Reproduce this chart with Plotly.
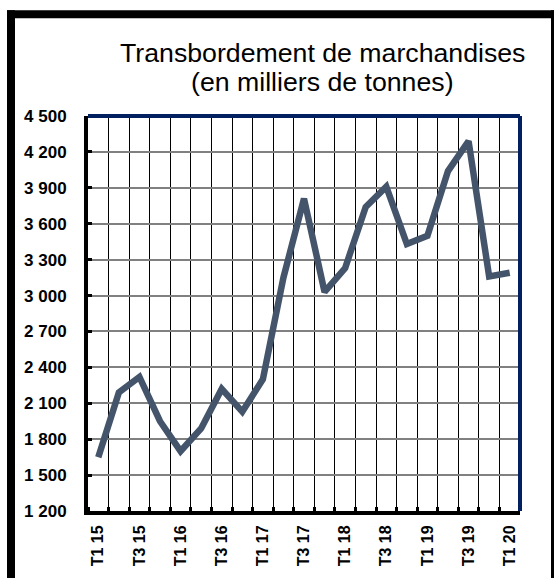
import plotly.graph_objects as go

# ---- data ----
quarters = ["T1 15", "T2 15", "T3 15", "T4 15",
            "T1 16", "T2 16", "T3 16", "T4 16",
            "T1 17", "T2 17", "T3 17", "T4 17",
            "T1 18", "T2 18", "T3 18", "T4 18",
            "T1 19", "T2 19", "T3 19", "T4 19",
            "T1 20"]
values = [1650, 2190, 2320, 1950,
          1700, 1890, 2220, 2030,
          2300, 3150, 3810, 3030,
          3230, 3740, 3910, 3430,
          3500, 4040, 4290, 3160,
          3190]
y_ticks = [1200, 1500, 1800, 2100, 2400, 2700, 3000, 3300, 3600, 3900, 4200, 4500]
y_ticktext = ["1 200", "1 500", "1 800", "2 100", "2 400", "2 700",
              "3 000", "3 300", "3 600", "3 900", "4 200", "4 500"]
title_lines = ["Transbordement de marchandises", "(en milliers de tonnes)"]

# ---- layout geometry (pixels) ----
W, H = 557, 578
L, R, T, B = 88, 520, 116, 516
PW, PH = R - L, B - T

def px(x):
    return (x - L) / PW

def py(y):
    return (B - y) / PH

xs = list(range(len(quarters)))
label_idx = xs[::2]

fig = go.Figure()
fig.add_trace(go.Scatter(
    x=xs, y=values, mode="lines",
    line=dict(color="#44546A", width=6.5),
    hoverinfo="skip", showlegend=False,
))

FONT = "Liberation Sans, Arial, sans-serif"

fig.update_layout(
    width=W, height=H,
    margin=dict(l=L, r=W - R, t=T, b=H - B, pad=0),
    paper_bgcolor="white", plot_bgcolor="white",
    font=dict(family=FONT, color="black"),
    showlegend=False,
)

fig.update_xaxes(
    range=[-0.5, len(quarters) - 0.5],
    tickmode="array",
    tickvals=label_idx,
    ticktext=[quarters[i] for i in label_idx],
    tickangle=-90,
    tickfont=dict(family=FONT, size=16, color="black", weight="bold"),
    ticks="", showgrid=False, zeroline=False,
    showline=True, linecolor="black", linewidth=4,
    ticklabelstandoff=4,
    minor=dict(
        tickmode="array",
        tickvals=[i - 0.5 for i in range(len(quarters) + 1)],
        showgrid=True, gridcolor="black", gridwidth=1,
        ticks="inside", ticklen=4, tickwidth=3, tickcolor="black",
    ),
)

fig.update_yaxes(
    range=[y_ticks[0], y_ticks[-1]],
    tickmode="array", tickvals=y_ticks, ticktext=y_ticktext,
    tickfont=dict(family=FONT, size=17, color="black", weight="bold"),
    ticks="inside", ticklen=4, tickwidth=3, tickcolor="black",
    showgrid=True, gridcolor="#808080", gridwidth=1.5,
    zeroline=False,
    showline=True, linecolor="black", linewidth=4,
    ticklabelstandoff=14,
)

shapes = []
# navy top and right plot border
shapes.append(dict(type="line", xref="paper", yref="paper",
                   x0=0, x1=1, y0=1, y1=1, line=dict(color="#002060", width=4)))
shapes.append(dict(type="line", xref="paper", yref="paper",
                   x0=1, x1=1, y0=0, y1=1, line=dict(color="#002060", width=4)))
# outer black frame
shapes.append(dict(type="rect", xref="paper", yref="paper",
                   x0=px(7), x1=px(15), y0=py(600), y1=py(9),
                   fillcolor="black", line=dict(width=0)))
shapes.append(dict(type="rect", xref="paper", yref="paper",
                   x0=px(7), x1=px(554), y0=py(17), y1=py(9),
                   fillcolor="black", line=dict(width=0)))
shapes.append(dict(type="rect", xref="paper", yref="paper",
                   x0=px(551), x1=px(554), y0=py(600), y1=py(9),
                   fillcolor="black", line=dict(width=0)))
fig.update_layout(shapes=shapes)

fig.add_annotation(text=title_lines[0], xref="paper", yref="paper",
                   x=px(322), y=py(52), xanchor="center", yanchor="middle",
                   showarrow=False, font=dict(family=FONT, size=26.7, color="black"))
fig.add_annotation(text=title_lines[1], xref="paper", yref="paper",
                   x=px(322), y=py(82), xanchor="center", yanchor="middle",
                   showarrow=False, font=dict(family=FONT, size=26.7, color="black"))

fig.write_html("out.html", config={"displayModeBar": False},
               post_script="document.body.style.margin='0';")
